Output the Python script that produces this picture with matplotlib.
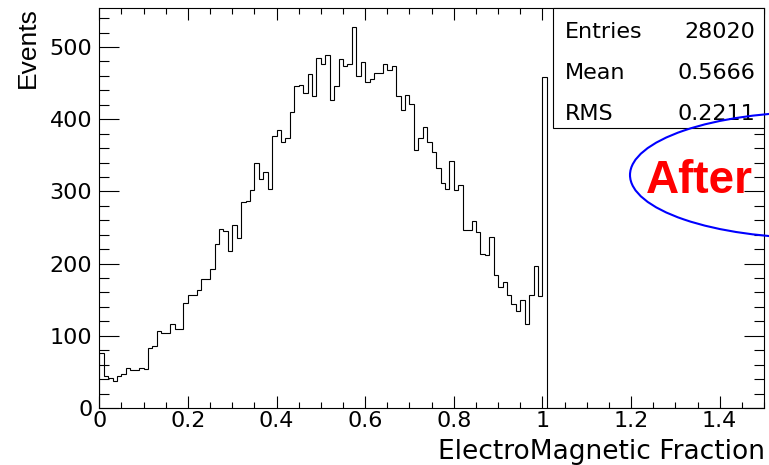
import numpy as np
import matplotlib
matplotlib.use("Agg")
import matplotlib.pyplot as plt
from matplotlib.ticker import MultipleLocator
from matplotlib.patches import Rectangle, Ellipse

# bin contents, bins of 0.01 from 0 to 1.01
counts = [76, 44, 41, 37, 45, 47, 55, 53, 53, 56,
          54, 83, 86, 107, 104, 104, 116, 110, 109, 146,
          156, 157, 164, 179, 179, 192, 227, 248, 245, 218,
          254, 236, 285, 287, 302, 340, 317, 327, 303, 377,
          385, 368, 374, 410, 446, 448, 436, 463, 432, 485,
          477, 489, 427, 446, 483, 474, 476, 528, 460, 479,
          451, 456, 464, 464, 476, 468, 474, 432, 413, 433,
          421, 357, 374, 389, 368, 354, 333, 312, 304, 342,
          302, 309, 246, 246, 259, 244, 213, 212, 237, 184,
          168, 174, 156, 144, 135, 150, 117, 157, 196, 155,
          458]
n_bins = 150  # histogram runs 0..1.5, the rest is empty
values = np.zeros(n_bins)
values[:len(counts)] = counts
edges = np.round(np.arange(n_bins + 1) * 0.01, 2)

xticks = [0, 0.2, 0.4, 0.6, 0.8, 1.0, 1.2, 1.4]
xtick_labels = ["0", "0.2", "0.4", "0.6", "0.8", "1", "1.2", "1.4"]
yticks = [0, 100, 200, 300, 400, 500]
ytick_labels = ["0", "100", "200", "300", "400", "500"]

stat_names = ["Entries", "Mean", "RMS"]
stat_values = ["28020", "0.5666", "0.2211"]

W, H = 769, 465
fig = plt.figure(figsize=(W / 100, H / 100), dpi=100)

# frame in pixels: left 99, right 764, top 8, bottom 408
ax = fig.add_axes([99.3 / W, 1 - 408 / H, (764 - 99.3) / W, (408 - 8) / H])
ax.stairs(values, edges, color="black", lw=0.8)
ax.set_xlim(0, 1.5)
ax.set_ylim(0, 554)

ax.set_xticks(xticks)
ax.set_xticklabels(xtick_labels, fontsize=16, family="DejaVu Sans")
ax.set_yticks(yticks)
ax.set_yticklabels(ytick_labels, fontsize=16, family="DejaVu Sans")
ax.xaxis.set_minor_locator(MultipleLocator(0.05))
ax.yaxis.set_minor_locator(MultipleLocator(20))
ax.tick_params(which="both", direction="in", top=True, right=True, width=0.8)
ax.tick_params(axis="x", which="major", length=8.6, pad=2)
ax.tick_params(axis="x", which="minor", length=4.3)
ax.tick_params(axis="y", which="major", length=14.4, pad=5)
ax.tick_params(axis="y", which="minor", length=7.2)
for s in ax.spines.values():
    s.set_linewidth(0.8)

# axis titles, ROOT style (aligned to the ends)
fig.text(765 / W, 1 - 459 / H, "ElectroMagnetic Fraction", fontsize=19,
         family="DejaVu Sans", ha="right", va="baseline")
fig.text(35 / W, 1 - 88 / H, "Events", fontsize=19, family="Liberation Sans",
         rotation=90, rotation_mode="anchor", ha="left", va="baseline")

# stats box
box = Rectangle((553 / W, 1 - 128 / H), (764 - 553) / W, 120 / H,
                transform=fig.transFigure, facecolor="white",
                edgecolor="black", lw=0.8, zorder=5)
fig.patches.append(box)
for i, (name, val) in enumerate(zip(stat_names, stat_values)):
    yb = 1 - (38.3 + i * 41) / H
    fig.text(565 / W, yb, name, fontsize=16, family="DejaVu Sans",
             ha="left", va="baseline", zorder=6)
    fig.text(755 / W, yb, val, fontsize=16, family="DejaVu Sans",
             ha="right", va="baseline", zorder=6)

# hand-drawn annotation
ell = Ellipse((815 / W, 1 - 175 / H), 370 / W, 126 / H,
              transform=fig.transFigure, fill=False, edgecolor="#0000ff",
              lw=1.5, zorder=7)
fig.patches.append(ell)
fig.text(699 / W, 1 - 193 / H, "After", fontsize=33, fontweight="bold",
         family="Liberation Sans", color="#ff0000", ha="center",
         va="baseline", zorder=8)

fig.savefig("out.png", dpi=100)
